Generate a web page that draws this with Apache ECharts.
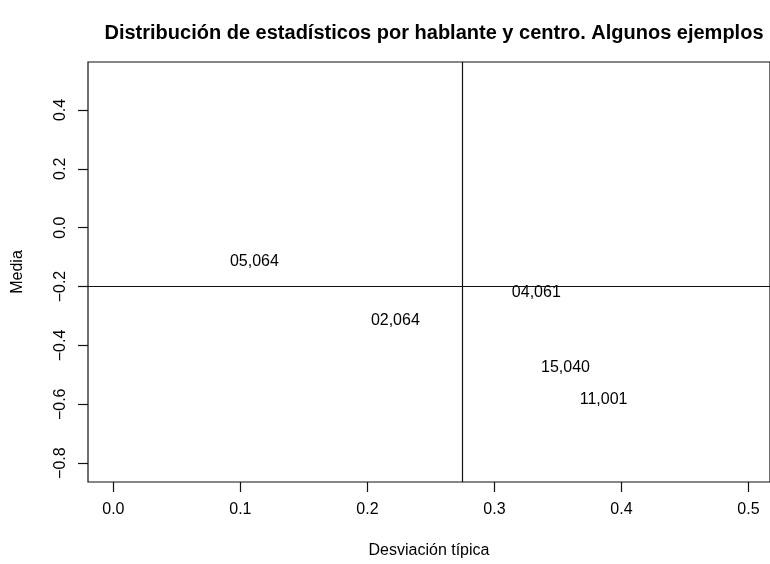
<!DOCTYPE html>
<html>
<head>
<meta charset="utf-8">
<script src="https://cdn.jsdelivr.net/npm/echarts@6/dist/echarts.min.js"></script>
<style>
  html, body { margin: 0; padding: 0; background: #fff; }
  #chart { width: 770px; height: 564px; }
</style>
</head>
<body>
<div id="chart"></div>
<script>
// hablante,centro
var labels = ['05,064', '02,064', '04,061', '15,040', '11,001']
// desviación típica
var desv = [0.111, 0.222, 0.333, 0.356, 0.386]
// media
var media = [-0.107, -0.309, -0.215, -0.469, -0.576]

var xTicks = [0, 0.1, 0.2, 0.3, 0.4, 0.5]
var yTicks = [-0.8, -0.6, -0.4, -0.2, 0, 0.2, 0.4]

// líneas de referencia
var refDesv = 0.275
var refMedia = -0.2

var fmt = function (v) {
  return Number(v).toFixed(1).replace('-', '\u2212')
}

var points = labels.map(function (name, i) {
  return { name: name, value: [desv[i], media[i]] }
})

var chart = echarts.init(document.getElementById('chart'))
chart.setOption({
  animation: false,
  textStyle: { fontFamily: 'Liberation Sans' },
  title: {
    text: 'Distribución de estadísticos por hablante y centro. Algunos ejemplos',
    left: 429,
    top: 18,
    textAlign: 'center',
    textStyle: { fontSize: 20, fontWeight: 'bold', color: '#000', fontFamily: 'Liberation Sans' }
  },
  grid: {
    left: 88,
    top: 62,
    right: 0,
    bottom: 80,
    show: true,
    borderColor: '#111',
    borderWidth: 1.2
  },
  xAxis: {
    type: 'value',
    min: -0.02,
    max: 0.517,
    name: 'Desviación típica',
    nameLocation: 'middle',
    nameGap: 61,
    nameTextStyle: { fontSize: 16, color: '#000' },
    splitLine: { show: false },
    axisLine: { show: false, onZero: false },
    axisTick: {
      show: true,
      length: 10,
      customValues: xTicks,
      lineStyle: { color: '#111', width: 1.2 }
    },
    axisLabel: {
      customValues: xTicks,
      formatter: fmt,
      margin: 20,
      fontSize: 16,
      color: '#000'
    }
  },
  yAxis: {
    type: 'value',
    min: -0.864,
    max: 0.563,
    name: 'Media',
    nameLocation: 'middle',
    nameGap: 62,
    nameRotate: 90,
    nameTextStyle: { fontSize: 16, color: '#000' },
    splitLine: { show: false },
    axisLine: { show: false, onZero: false },
    axisTick: {
      show: true,
      length: 10,
      customValues: yTicks,
      lineStyle: { color: '#111', width: 1.2 }
    },
    axisLabel: {
      customValues: yTicks,
      formatter: fmt,
      rotate: 90,
      margin: 19,
      fontSize: 16,
      color: '#000'
    }
  },
  series: [
    {
      type: 'scatter',
      data: points,
      symbolSize: 0,
      itemStyle: { opacity: 1 },
      label: {
        show: true,
        position: 'inside',
        offset: [0, 2],
        formatter: '{b}',
        fontSize: 16,
        color: '#000',
        opacity: 1,
        textBorderWidth: 0
      },
      markLine: {
        silent: true,
        symbol: 'none',
        precision: 4,
        label: { show: false },
        lineStyle: { color: '#111', type: 'solid', width: 1.2 },
        data: [{ xAxis: refDesv }, { yAxis: refMedia }]
      }
    }
  ]
})
</script>
</body>
</html>
